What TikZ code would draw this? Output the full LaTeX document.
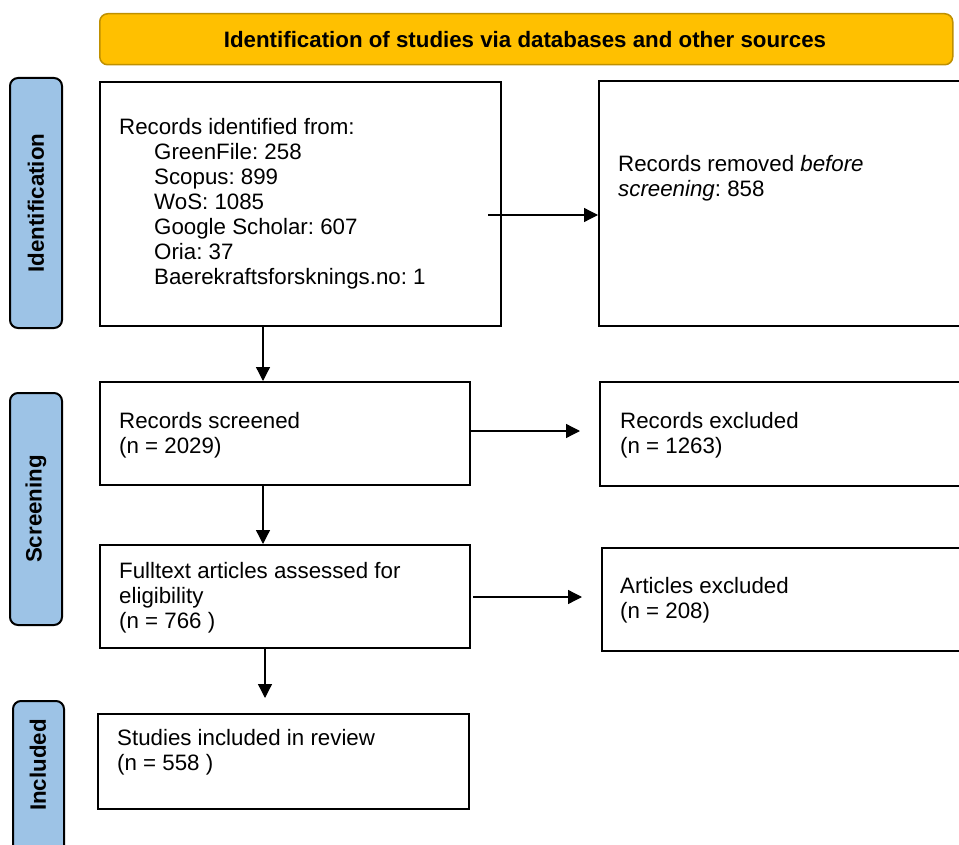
\documentclass[tikz,border=0pt]{standalone}
\usepackage{fontspec}
\setmainfont{Liberation Sans}
\usetikzlibrary{arrows.meta,calc}
\definecolor{hdrfill}{HTML}{FFC000}
\definecolor{hdrdraw}{HTML}{BF9000}
\definecolor{sidefill}{HTML}{9DC3E6}
\tikzset{
  boxnode/.style={draw=black,line width=2pt,fill=white,rectangle,inner sep=0pt,anchor=north west},
  sidenode/.style={draw=black,line width=2pt,fill=sidefill,rounded corners=8pt,inner sep=0pt,anchor=north west},
  hdrnode/.style={draw=hdrdraw,line width=1.5pt,fill=hdrfill,rounded corners=8pt,inner sep=0pt,anchor=north west},
  txt/.style={anchor=base west,inner sep=0pt,font=\fontsize{22.3pt}{25pt}\selectfont},
  sidetxt/.style={rotate=90,inner sep=0pt,font=\fontsize{22.3pt}{25pt}\selectfont\bfseries},
  arr/.style={line width=1.3pt,-{Triangle[length=14pt,width=14pt]}}
}
\frenchspacing
\begin{document}
\begin{tikzpicture}[x=1pt,y=-1pt]
\clip (0,0) rectangle (959,845);
\fill[white] (0,0) rectangle (959,845);
% header
\node[hdrnode,minimum width=853pt,minimum height=51pt] (hdr) at (99,13) {};
\node[inner sep=0pt,font=\fontsize{22.3pt}{25pt}\selectfont\bfseries] (hdrt) at (525,40) {Identification of studies via databases and other sources};
% side labels
\node[sidenode,minimum width=52pt,minimum height=250pt] (s1) at (9,77) {};
\node[sidetxt] (s1t) at (s1.center) {Identification};
\node[sidenode,minimum width=52pt,minimum height=232pt] (s2) at (9,392) {};
\node[sidetxt] (s2t) at (s2.center) {Screening};
\node[sidenode,minimum width=51pt,minimum height=170pt] (s3) at (12,700) {};
\node[sidetxt] (s3t) at (38,765) {Included};
% boxes
\node[boxnode,minimum width=401pt,minimum height=244pt] (b1) at (99,81) {};
\node[boxnode,minimum width=400pt,minimum height=245pt] (b2) at (598,80) {};
\node[boxnode,minimum width=370pt,minimum height=103pt] (b3) at (99,381) {};
\node[boxnode,minimum width=400pt,minimum height=104pt] (b4) at (599,381) {};
\node[boxnode,minimum width=370pt,minimum height=103pt] (b5) at (99,544) {};
\node[boxnode,minimum width=400pt,minimum height=103pt] (b6) at (601,547) {};
\node[boxnode,minimum width=371pt,minimum height=95pt] (b7) at (97,713) {};
% texts
\node[txt] (t1a) at (119,135) {Records identified from:};
\node[txt] (t1b) at (154,160) {GreenFile: 258};
\node[txt] (t1c) at (154,185) {Scopus: 899};
\node[txt] (t1d) at (154,210) {WoS: 1085};
\node[txt] (t1e) at (154,235) {Google Scholar: 607};
\node[txt] (t1f) at (154,260) {Oria: 37};
\node[txt] (t1g) at (154,285) {Baerekraftsforsknings.no: 1};
\node[txt] (t2a) at (618,172) {Records removed \textit{before}};
\node[txt] (t2b) at (618,197) {\textit{screening}: 858};
\node[txt] (t3a) at (119,428) {Records screened};
\node[txt] (t3b) at (119,453) {(n = 2029)};
\node[txt] (t4a) at (620,428) {Records excluded};
\node[txt] (t4b) at (620,453) {(n = 1263)};
\node[txt] (t5a) at (119,578) {Fulltext articles assessed for};
\node[txt] (t5b) at (119,603) {eligibility};
\node[txt] (t5c) at (119,628) {(n = 766 )};
\node[txt] (t6a) at (620,593) {Articles excluded};
\node[txt] (t6b) at (620,618) {(n = 208)};
\node[txt] (t7a) at (117,745) {Studies included in review};
\node[txt] (t7b) at (117,770) {(n = 558 )};
% connectors
\coordinate (a1s) at (488,215);
\draw[arr] (a1s) -- (a1s -| b2.west);
\coordinate (a2e) at (580,431);
\draw[arr] (b3.east |- a2e) -- (a2e);
\coordinate (a3e) at (582,597);
\draw[arr] ([xshift=2pt]b5.east |- a3e) -- (a3e);
\coordinate (d1) at (263,0);
\draw[arr] (d1 |- b1.south) -- (d1 |- b3.north);
\draw[arr] (d1 |- b3.south) -- (d1 |- b5.north);
\coordinate (d3e) at (265,698);
\draw[arr] (d3e |- b5.south) -- (d3e);
\end{tikzpicture}
\end{document}
